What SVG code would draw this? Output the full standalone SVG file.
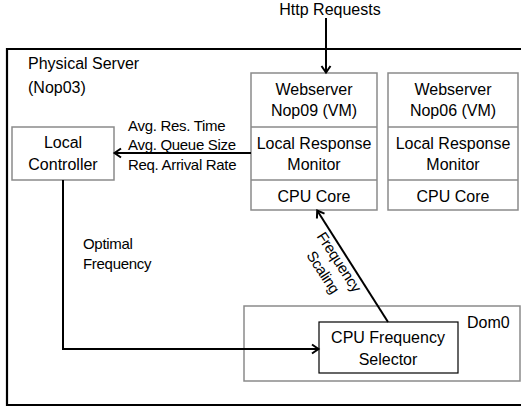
<svg xmlns="http://www.w3.org/2000/svg" width="521" height="411" viewBox="0 0 521 411">
<style>
text{font-family:"Liberation Sans",Arial,sans-serif;font-size:16px;fill:#000}
.c{text-anchor:middle}
.s{font-size:15px;letter-spacing:-0.3px}
.box{fill:#fff;stroke:#8a8a8a;stroke-width:1.5}
.div{stroke:#8a8a8a;stroke-width:1.5}
.conn{fill:none;stroke:#000;stroke-width:2}
</style>
<defs>
<marker id="ah" markerWidth="12" markerHeight="12" refX="9" refY="6" orient="auto" markerUnits="userSpaceOnUse">
<path d="M3,1.5 L9.5,6 L3,10.5" fill="none" stroke="#000" stroke-width="2"/>
</marker>
</defs>
<rect width="521" height="411" fill="#fff"/>
<g id="physical-server">
<path d="M530,49 H7 V405 H530" fill="none" stroke="#000" stroke-width="2.2"/>
<text x="28" y="69">Physical Server</text>
<text x="28" y="93">(Nop03)</text>
</g>
<text class="c" x="330" y="15">Http Requests</text>
<g id="nop09">
<rect class="box" x="251" y="73" width="126" height="137"/>
<line class="div" x1="251" y1="127" x2="377" y2="127"/>
<line class="div" x1="251" y1="180" x2="377" y2="180"/>
<text class="c" x="314" y="95">Webserver</text>
<text class="c" x="314" y="116">Nop09 (VM)</text>
<text class="c" x="314" y="149">Local Response</text>
<text class="c" x="314" y="170">Monitor</text>
<text class="c" x="314" y="202">CPU Core</text>
</g>
<g id="nop06">
<rect class="box" x="388" y="73" width="130" height="137"/>
<line class="div" x1="388" y1="127" x2="518" y2="127"/>
<line class="div" x1="388" y1="180" x2="518" y2="180"/>
<text class="c" x="453" y="95">Webserver</text>
<text class="c" x="453" y="116">Nop06 (VM)</text>
<text class="c" x="453" y="149">Local Response</text>
<text class="c" x="453" y="170">Monitor</text>
<text class="c" x="453" y="202">CPU Core</text>
</g>
<g id="local-controller">
<rect class="box" x="12" y="127" width="102" height="53"/>
<text class="c" x="63" y="148">Local</text>
<text class="c" x="63" y="170">Controller</text>
</g>
<g id="dom0">
<rect class="box" x="244" y="306" width="276" height="75"/>
<text x="467" y="328">Dom0</text>
</g>
<g id="cpu-frequency-selector">
<rect x="319" y="322" width="139" height="51" fill="#fff" stroke="#000" stroke-width="1.2"/>
<text class="c" x="388" y="343">CPU Frequency</text>
<text class="c" x="388" y="365">Selector</text>
</g>
<g id="connectors">
<line class="conn" x1="326" y1="18" x2="326" y2="72" marker-end="url(#ah)"/>
<line class="conn" x1="251" y1="153" x2="115" y2="153" marker-end="url(#ah)"/>
<polyline class="conn" points="63,180 63,349 318,349" marker-end="url(#ah)"/>
<line class="conn" x1="388" y1="322" x2="317.5" y2="211" marker-end="url(#ah)"/>
</g>
<g id="labels">
<text class="s" x="128" y="131">Avg. Res. Time</text>
<text class="s" x="128" y="150">Avg. Queue Size</text>
<text class="s" x="128" y="170">Req. Arrival Rate</text>
<text class="s" x="83" y="249">Optimal</text>
<text class="s" x="83" y="269">Frequency</text>
<g transform="translate(339,262) rotate(57)">
<text class="c s" x="0" y="5">Frequency</text>
<text class="c s" x="0" y="24">Scaling</text>
</g>
</g>
</svg>
